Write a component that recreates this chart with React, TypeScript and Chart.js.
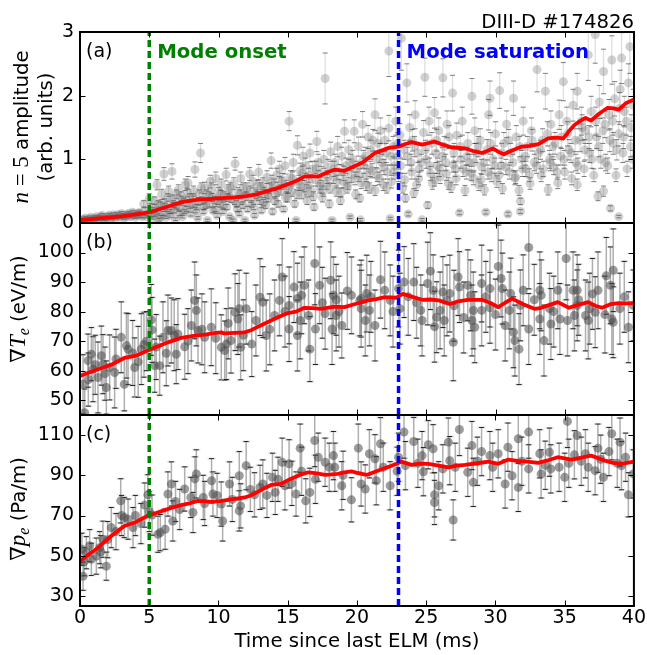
import React, { useEffect, useRef } from 'react';
import { Chart, registerables } from 'chart.js';

Chart.register(...registerables);

// ---------------- data ----------------
const xTicks = [0, 5, 10, 15, 20, 25, 30, 35, 40];
const ampTicks = [0, 1, 2, 3];
const gradTeTicks = [50, 60, 70, 80, 90, 100];
const gradPeTicks = [30, 50, 70, 90, 110];

const modeOnset = 5;
const modeSaturation = 23;

// [time (ms), value, error]
const ampPoints: [number, number, number][] = [
  [0.1, 0.04, 0.02], [0.3, 0.06, 0.02], [0.5, 0.03, 0.02], [0.7, 0.07, 0.02], [0.9, 0.05, 0.02],
  [1.1, 0.08, 0.02], [1.3, 0.06, 0.02], [1.5, 0.1, 0.02], [1.7, 0.07, 0.02], [1.9, 0.09, 0.02],
  [2.1, 0.12, 0.03], [2.3, 0.08, 0.02], [2.5, 0.1, 0.02], [2.7, 0.13, 0.03], [2.9, 0.09, 0.02],
  [3.1, 0.12, 0.03], [3.3, 0.1, 0.02], [3.5, 0.15, 0.03], [3.7, 0.11, 0.02], [3.9, 0.14, 0.03],
  [4.1, 0.12, 0.03], [4.3, 0.17, 0.03], [4.5, 0.1, 0.02], [4.7, 0.2, 0.04], [4.9, 0.14, 0.03],
  [4.6, 0.3, 0.05], [5.0, 0.38, 0.08],
  [0.2, 0.05, 0.02], [0.4, 0.08, 0.02], [0.6, 0.05, 0.02], [0.8, 0.09, 0.02], [1.0, 0.06, 0.02],
  [1.2, 0.1, 0.02], [1.4, 0.07, 0.02], [1.6, 0.12, 0.03], [1.8, 0.06, 0.02], [2.0, 0.1, 0.02],
  [2.2, 0.07, 0.02], [2.4, 0.13, 0.03], [2.6, 0.08, 0.02], [2.8, 0.11, 0.02], [3.0, 0.15, 0.03],
  [3.2, 0.08, 0.02], [3.4, 0.13, 0.03], [3.6, 0.1, 0.02], [3.8, 0.17, 0.03], [4.0, 0.09, 0.02],
  [4.2, 0.15, 0.03], [4.4, 0.12, 0.03], [4.8, 0.1, 0.02],
  [5.1, 0.12, 0.03], [5.2, 0.25, 0.05], [5.3, 0.08, 0.02], [5.4, 0.35, 0.06], [5.56, 0.6, 0.08],
  [5.6, 0.18, 0.04], [5.7, 0.05, 0.02], [5.8, 0.28, 0.05], [5.9, 0.45, 0.08], [6.0, 0.15, 0.03],
  [6.06, 0.77, 0.1], [6.1, 0.32, 0.06], [6.2, 0.09, 0.02], [6.3, 0.22, 0.04], [6.4, 0.5, 0.08],
  [6.5, 0.12, 0.03], [6.64, 0.81, 0.12], [6.7, 0.38, 0.06], [6.8, 0.2, 0.04], [6.9, 0.06, 0.02],
  [7.0, 0.27, 0.05], [7.1, 0.52, 0.08], [7.2, 0.15, 0.03], [7.3, 0.42, 0.07], [7.4, 0.1, 0.02],
  [7.5, 0.33, 0.06], [7.6, 0.6, 0.09], [7.7, 0.22, 0.04], [7.8, 0.63, 0.1], [7.9, 0.4, 0.06],
  [8.0, 0.14, 0.03], [8.1, 0.3, 0.05], [8.2, 0.5, 0.08], [8.3, 0.84, 0.12], [8.4, 0.25, 0.04],
  [8.5, 0.08, 0.02], [8.6, 0.45, 0.07], [8.7, 1.1, 0.15], [8.8, 0.35, 0.06], [8.9, 0.18, 0.03],
  [9.0, 0.55, 0.09], [9.1, 0.28, 0.05], [9.2, 0.04, 0.02], [9.3, 0.42, 0.07], [9.4, 0.65, 0.1],
  [9.5, 0.55, 0.08], [9.6, 0.2, 0.04], [9.7, 0.36, 0.06], [9.8, 0.7, 0.1], [9.9, 0.12, 0.03],
  [10.0, 0.48, 0.08], [10.1, 0.3, 0.05], [10.2, 0.6, 0.09], [10.3, 0.18, 0.03], [10.4, 0.42, 0.07],
  [10.55, 0.76, 0.1], [10.6, 0.25, 0.04], [10.7, 0.52, 0.08], [10.8, 0.1, 0.02], [10.9, 0.38, 0.06],
  [11.05, 0.04, 0.02], [11.1, 0.62, 0.09], [11.2, 0.93, 0.1], [11.3, 0.3, 0.05], [11.4, 0.48, 0.08],
  [11.5, 0.15, 0.03], [11.6, 0.7, 0.1], [11.7, 0.35, 0.06], [11.8, 0.55, 0.08], [11.9, 0.04, 0.02],
  [12.0, 0.42, 0.07], [12.1, 0.22, 0.04], [12.25, 0.77, 0.1], [12.3, 0.5, 0.08], [12.4, 0.3, 0.05],
  [12.5, 0.65, 0.1], [12.6, 0.12, 0.03], [12.7, 0.45, 0.07], [12.8, 0.58, 0.09], [12.9, 0.8, 0.12],
  [13.0, 0.35, 0.06], [13.1, 0.2, 0.04], [13.2, 0.62, 0.09], [13.3, 0.48, 0.08], [13.4, 0.28, 0.05],
  [13.5, 0.72, 0.1], [13.6, 0.4, 0.07], [13.7, 0.55, 0.08], [13.8, 0.98, 0.12], [13.9, 0.18, 0.04],
  [14.0, 0.6, 0.09], [14.1, 0.45, 0.07], [14.2, 0.75, 0.11], [14.3, 0.3, 0.05], [14.4, 0.85, 0.12],
  [14.5, 0.52, 0.08], [14.6, 0.68, 0.1], [14.7, 0.22, 0.04], [14.8, 0.9, 0.13], [14.9, 0.58, 0.09],
  [15.0, 0.4, 0.07], [15.1, 1.6, 0.15], [15.2, 0.72, 0.1], [15.3, 0.5, 0.08], [15.4, 0.95, 0.13],
  [15.5, 0.3, 0.05], [15.6, 0.04, 0.02], [15.7, 1.22, 0.15], [15.8, 0.65, 0.1], [15.9, 0.82, 0.12],
  [16.0, 0.45, 0.07], [16.1, 1.05, 0.14], [16.2, 0.58, 0.09], [16.3, 0.9, 0.12], [16.4, 0.35, 0.06],
  [16.5, 0.75, 0.11], [16.6, 1.1, 0.14], [16.7, 0.5, 0.08], [16.8, 0.85, 0.12], [16.9, 0.25, 0.05],
  [17.0, 0.68, 0.1], [17.1, 1.28, 0.16], [17.2, 0.95, 0.13], [17.3, 0.55, 0.08], [17.4, 0.78, 0.11],
  [17.5, 0.4, 0.07], [17.6, 1.0, 0.14], [17.7, 2.27, 0.4], [17.8, 0.62, 0.09], [17.9, 0.88, 0.12],
  [18.0, 0.3, 0.06], [18.1, 1.12, 0.15], [18.2, 0.04, 0.02], [18.3, 0.72, 0.1], [18.4, 0.95, 0.13],
  [18.5, 0.5, 0.08], [18.6, 1.2, 0.16], [18.7, 0.8, 0.12], [18.8, 0.35, 0.06], [18.9, 1.05, 0.14],
  [19.0, 0.65, 0.1], [19.1, 1.44, 0.18], [19.2, 0.9, 0.12], [19.3, 0.55, 0.08], [19.4, 1.15, 0.15],
  [19.5, 0.09, 0.02], [19.6, 0.75, 0.11], [19.7, 1.0, 0.14], [19.8, 1.44, 0.18], [19.9, 0.45, 0.07],
  [5.25, 0.2, 0.04], [5.45, 0.14, 0.03], [5.65, 0.3, 0.05], [5.85, 0.1, 0.02], [6.15, 0.26, 0.05],
  [6.35, 0.4, 0.06], [6.55, 0.18, 0.03], [6.75, 0.3, 0.05], [6.95, 0.45, 0.07], [7.15, 0.24, 0.04],
  [7.35, 0.36, 0.06], [7.55, 0.18, 0.03], [7.75, 0.48, 0.07], [7.95, 0.28, 0.05], [8.15, 0.4, 0.06],
  [8.35, 0.2, 0.04], [8.55, 0.34, 0.06], [8.75, 0.55, 0.08], [8.95, 0.26, 0.05], [9.15, 0.45, 0.07],
  [9.35, 0.3, 0.05], [9.55, 0.4, 0.06], [9.75, 0.22, 0.04], [9.95, 0.35, 0.06], [10.15, 0.45, 0.07],
  [10.35, 0.28, 0.05], [10.65, 0.4, 0.06], [10.85, 0.55, 0.08], [11.15, 0.35, 0.06], [11.35, 0.22, 0.04],
  [11.55, 0.45, 0.07], [11.75, 0.28, 0.05], [12.05, 0.55, 0.08], [12.35, 0.38, 0.06], [12.55, 0.25, 0.04],
  [12.85, 0.42, 0.07], [13.05, 0.55, 0.08], [13.25, 0.32, 0.05], [13.55, 0.45, 0.07], [13.85, 0.65, 0.1],
  [14.05, 0.35, 0.06], [14.25, 0.5, 0.08], [14.55, 0.62, 0.09], [14.85, 0.4, 0.07], [15.05, 0.55, 0.08],
  [15.35, 0.7, 0.1], [15.65, 0.45, 0.07], [15.85, 0.6, 0.09], [16.05, 0.78, 0.11], [16.35, 0.52, 0.08],
  [16.55, 0.65, 0.1], [16.85, 0.42, 0.07], [17.05, 0.85, 0.12], [17.35, 0.62, 0.09], [17.55, 0.5, 0.08],
  [17.85, 0.72, 0.1], [18.05, 0.55, 0.08], [18.35, 0.85, 0.12], [18.55, 0.65, 0.1], [18.85, 0.48, 0.07],
  [19.05, 0.78, 0.11], [19.35, 0.62, 0.09], [19.55, 0.95, 0.13], [19.85, 0.7, 0.1],
  [20.0, 0.85, 0.12], [20.1, 1.2, 0.15], [20.2, 0.39, 0.06], [20.25, 0.05, 0.02], [20.3, 0.63, 0.09],
  [20.4, 1.55, 0.2], [20.5, 0.9, 0.12], [20.6, 1.05, 0.14], [20.7, 0.75, 0.1], [20.8, 1.35, 0.18],
  [20.9, 0.55, 0.08], [21.0, 1.15, 0.15], [21.1, 0.82, 0.11], [21.3, 0.51, 0.08], [21.3, 1.7, 0.25],
  [21.4, 1.0, 0.13], [21.5, 1.25, 0.16], [21.6, 0.7, 0.1], [21.7, 1.45, 0.2], [21.8, 0.95, 0.13],
  [21.9, 0.6, 0.09], [22.0, 1.3, 0.18], [22.1, 1.1, 0.15], [22.2, 0.8, 0.11], [22.3, 1.49, 0.2],
  [22.3, 2.7, 0.4], [22.4, 0.07, 0.02], [22.5, 0.65, 0.1], [22.6, 1.2, 0.16], [22.7, 0.9, 0.12],
  [22.8, 1.6, 0.22], [22.9, 1.05, 0.14], [23.0, 0.75, 0.1], [23.1, 1.38, 0.18], [23.2, 2.9, 0.5],
  [23.3, 0.55, 0.08], [23.4, 1.15, 0.15], [23.5, 0.39, 0.06], [23.6, 2.2, 0.3], [23.7, 0.14, 0.03],
  [23.8, 1.5, 0.2], [23.9, 0.95, 0.13], [24.0, 1.3, 0.17], [24.1, 0.47, 0.07], [24.2, 1.7, 0.22],
  [24.3, 0.6, 0.09], [24.4, 1.1, 0.15], [24.5, 0.85, 0.12], [24.7, 0.05, 0.02], [24.8, 1.42, 0.19],
  [24.9, 2.29, 0.3], [25.0, 1.0, 0.14], [25.1, 0.28, 0.05], [25.2, 1.6, 0.22], [25.3, 0.78, 0.11],
  [25.4, 1.25, 0.17], [25.6, 0.68, 0.1], [25.6, 1.73, 0.24], [25.7, 1.1, 0.15], [25.8, 0.9, 0.12],
  [25.9, 1.45, 0.2], [26.0, 0.72, 0.1], [26.2, 2.28, 0.3], [26.3, 1.2, 0.16], [26.4, 0.95, 0.13],
  [26.5, 1.55, 0.21], [26.6, 0.62, 0.09], [26.8, 0.56, 0.08], [26.9, 2.04, 0.28], [27.0, 1.1, 0.15],
  [27.1, 0.85, 0.12], [27.2, 1.38, 0.19], [27.4, 0.16, 0.03], [27.5, 1.0, 0.14], [27.6, 1.6, 0.22],
  [27.8, 0.51, 0.08], [27.9, 0.8, 0.11], [28.0, 1.25, 0.17], [28.1, 0.95, 0.13], [28.3, 1.99, 0.28],
  [28.4, 0.7, 0.1], [28.5, 1.45, 0.2], [28.6, 1.1, 0.15], [28.8, 0.6, 0.09], [28.9, 1.3, 0.18],
  [29.0, 0.88, 0.12], [29.2, 0.52, 0.08], [29.3, 0.17, 0.03], [29.4, 1.15, 0.16], [29.5, 1.7, 0.24],
  [29.6, 1.96, 0.27], [29.7, 0.75, 0.1], [29.8, 1.0, 0.14], [30.0, 1.4, 0.19], [30.1, 0.65, 0.09],
  [30.3, 2.08, 0.28], [30.4, 0.9, 0.12], [30.5, 0.54, 0.08], [30.6, 1.25, 0.17], [30.8, 1.55, 0.21],
  [30.9, 0.14, 0.03], [31.0, 0.8, 0.11], [31.1, 1.1, 0.15], [31.3, 1.96, 0.27], [31.4, 0.7, 0.1],
  [31.5, 1.35, 0.18], [31.7, 0.51, 0.08], [31.8, 0.18, 0.03], [31.8, 0.34, 0.05], [31.9, 1.0, 0.14],
  [32.0, 1.6, 0.22], [32.2, 0.85, 0.12], [32.3, 1.2, 0.16], [32.5, 0.62, 0.09], [32.6, 1.45, 0.2],
  [32.8, 0.95, 0.13], [33.0, 2.41, 0.35], [33.1, 1.1, 0.15], [33.3, 0.75, 0.1], [33.4, 1.3, 0.18],
  [33.6, 2.07, 0.28], [33.8, 0.52, 0.08], [33.9, 1.0, 0.14], [34.0, 1.55, 0.21], [34.2, 0.88, 0.12],
  [34.3, 1.25, 0.17], [34.5, 0.63, 0.09], [34.6, 1.7, 0.23], [34.7, 1.05, 0.14], [34.9, 2.22, 0.3],
  [35.0, 0.8, 0.11], [35.2, 1.4, 0.19], [35.3, 1.15, 0.16], [35.5, 0.7, 0.1], [35.6, 1.85, 0.25],
  [35.8, 0.95, 0.13], [35.9, 2.07, 0.28], [35.9, 0.6, 0.09], [36.1, 1.3, 0.18], [36.2, 1.6, 0.22],
  [36.4, 0.85, 0.12], [36.5, 1.45, 0.2], [36.7, 2.64, 0.4], [36.8, 1.1, 0.15], [36.9, 1.75, 0.24],
  [37.1, 0.75, 0.1], [37.2, 2.96, 0.45], [37.3, 1.35, 0.18], [37.4, 0.42, 0.07], [37.5, 1.9, 0.26],
  [37.6, 1.0, 0.14], [37.8, 2.38, 0.35], [37.8, 0.5, 0.08], [37.9, 1.55, 0.21], [38.1, 0.9, 0.12],
  [38.2, 1.7, 0.24], [38.3, 0.23, 0.04], [38.4, 2.56, 0.38], [38.5, 1.25, 0.17], [38.6, 1.95, 0.27],
  [38.7, 0.75, 0.1], [38.9, 0.1, 0.02], [38.9, 1.4, 0.19], [39.0, 2.1, 0.3], [39.1, 2.59, 0.4],
  [39.2, 1.1, 0.15], [39.3, 1.75, 0.24], [39.5, 0.85, 0.12], [39.6, 2.2, 0.3], [39.7, 2.77, 0.42],
  [39.8, 1.5, 0.2], [39.9, 1.0, 0.14],
  [20.15, 0.75, 0.1], [20.45, 1.0, 0.14], [20.65, 0.6, 0.09], [20.95, 0.85, 0.12], [21.15, 1.3, 0.17],
  [21.45, 0.75, 0.1], [21.65, 1.1, 0.15], [21.95, 0.88, 0.12], [22.15, 0.55, 0.08], [22.45, 1.05, 0.14],
  [22.65, 0.8, 0.11], [22.95, 1.25, 0.17], [23.15, 0.9, 0.12], [23.45, 0.68, 0.1], [23.65, 1.05, 0.14],
  [23.95, 0.8, 0.11], [24.15, 1.2, 0.16], [24.45, 0.7, 0.1], [24.65, 0.95, 0.13], [24.95, 1.15, 0.15],
  [25.25, 0.9, 0.12], [25.45, 0.62, 0.09], [25.75, 1.3, 0.17], [25.95, 0.85, 0.12], [26.15, 1.05, 0.14],
  [26.45, 0.78, 0.11], [26.65, 1.35, 0.18], [26.95, 0.92, 0.12], [27.15, 0.7, 0.1], [27.45, 1.2, 0.16],
  [27.65, 0.85, 0.12], [27.95, 1.05, 0.14], [28.25, 0.78, 0.11], [28.45, 0.95, 0.13], [28.75, 1.2, 0.16],
  [28.95, 0.68, 0.1], [29.15, 0.95, 0.13], [29.45, 0.8, 0.11], [29.65, 1.25, 0.17], [29.95, 0.9, 0.12],
  [30.25, 0.75, 0.1], [30.45, 1.1, 0.15], [30.75, 0.88, 0.12], [30.95, 1.3, 0.17], [31.25, 0.95, 0.13],
  [31.45, 0.72, 0.1], [31.75, 1.2, 0.16], [31.95, 0.85, 0.12], [32.15, 1.05, 0.14], [32.45, 0.75, 0.1],
  [32.65, 1.3, 0.17], [32.95, 0.9, 0.12], [33.25, 1.15, 0.15], [33.45, 0.85, 0.12], [33.75, 1.4, 0.19],
  [33.95, 0.95, 0.13], [34.15, 1.2, 0.16], [34.45, 0.8, 0.11], [34.75, 1.35, 0.18], [34.95, 1.0, 0.14],
  [35.15, 1.6, 0.22], [35.45, 1.1, 0.15], [35.75, 1.3, 0.18], [35.95, 0.9, 0.12], [36.25, 1.5, 0.2],
  [36.45, 1.15, 0.16], [36.75, 1.35, 0.18], [36.95, 1.0, 0.14], [37.25, 1.6, 0.22], [37.45, 1.2, 0.16],
  [37.75, 1.45, 0.2], [37.95, 0.95, 0.13], [38.25, 1.3, 0.18], [38.45, 1.6, 0.22], [38.75, 1.15, 0.16],
  [38.95, 1.8, 0.25], [39.25, 1.35, 0.18], [39.45, 1.6, 0.22], [39.75, 1.2, 0.16], [39.95, 1.85, 0.25],
];

const ampSmooth: [number, number][] = [
  [0, 0.05], [0.5, 0.055], [1, 0.065], [1.5, 0.075], [2, 0.085], [2.5, 0.095], [3, 0.105], [3.5, 0.12],
  [4, 0.135], [4.5, 0.15], [5, 0.17], [5.5, 0.2], [6, 0.235], [6.5, 0.27], [7, 0.305], [7.5, 0.335],
  [8, 0.35], [8.7, 0.37], [9.5, 0.38], [10.2, 0.39], [11, 0.4], [11.9, 0.42], [12.85, 0.455], [13.5, 0.5],
  [14.3, 0.55], [15.25, 0.63], [15.8, 0.68], [16.2, 0.73], [16.7, 0.735], [17.2, 0.73], [17.8, 0.79],
  [18.4, 0.84], [19.1, 0.82], [19.8, 0.89], [20.4, 0.95], [21.3, 1.1], [22.3, 1.18], [23, 1.2],
  [23.5, 1.24], [23.95, 1.27], [24.7, 1.23], [25.6, 1.28], [26.2, 1.23], [26.8, 1.19], [27.8, 1.17],
  [28.4, 1.13], [29, 1.1], [29.4, 1.13], [29.8, 1.17], [30.2, 1.12], [30.6, 1.08], [31.2, 1.14],
  [31.9, 1.2], [32.5, 1.21], [33.1, 1.24], [33.8, 1.33], [34.4, 1.34], [34.9, 1.33], [35.3, 1.44],
  [35.7, 1.54], [36.1, 1.6], [36.5, 1.65], [36.9, 1.61], [37.5, 1.72], [38.1, 1.81], [38.5, 1.8],
  [38.9, 1.78], [39.4, 1.88], [40, 1.94],
];

const gradTePoints: [number, number, number][] = [
  [0.34, 45.8, 8], [0.22, 55.4, 10], [0.58, 63.4, 9], [0.94, 60.5, 11], [1.3, 57.7, 12], [1.54, 65.1, 10],
  [1.9, 54.3, 9], [2.14, 61.1, 11], [2.5, 59.4, 12], [1.66, 62.2, 10], [0.82, 65.6, 9], [2.98, 71.3, 12],
  [3.2, 55.4, 9], [3.35, 68.5, 11], [3.47, 67.3, 12], [3.95, 61.1, 10], [4.43, 67.3, 12], [4.62, 68.8, 11],
  [5.15, 77.2, 12], [5.2, 73.8, 11], [5.39, 61.7, 9], [5.75, 61.7, 10], [5.99, 71.3, 12], [6.23, 65.9, 11],
  [6.35, 73.6, 12], [6.6, 73.6, 11], [6.95, 65.6, 10], [7.07, 72.4, 12], [7.56, 68.1, 11], [8.04, 75.3, 12],
  [8.28, 83.8, 13], [8.4, 80.4, 12], [8.52, 73.6, 11], [9.0, 71.3, 12], [9.48, 74.7, 13], [10.2, 67.9, 11],
  [10.45, 66.8, 10], [10.57, 69.0, 12], [10.9, 70.2, 11], [11.2, 79.8, 13], [11.4, 77.5, 12], [11.5, 81.0, 13],
  [11.6, 67.9, 11], [12.0, 81.0, 12], [12.4, 69.0, 11], [13.0, 84.9, 13], [13.2, 83.2, 12], [13.45, 71.9, 12],
  [14.05, 78.7, 12], [14.6, 91.7, 13], [14.4, 83.8, 12], [15.1, 82.1, 13], [15.1, 74.1, 11], [15.45, 88.3, 12],
  [15.7, 71.9, 12], [15.7, 84.4, 12], [16.0, 85.5, 13], [16.2, 88.9, 13], [16.5, 78.7, 12], [16.6, 67.3, 11],
  [16.95, 96.3, 14], [17.0, 74.1, 12], [17.3, 88.9, 13], [17.7, 79.3, 12], [18.1, 90.6, 13], [18.3, 85.5, 13],
  [18.2, 74.1, 12], [18.5, 84.0, 12], [18.5, 78.7, 12], [18.9, 75.3, 11], [19.6, 85.5, 13], [20.3, 84.4, 13],
  [20.2, 83.8, 12], [20.3, 81.0, 13], [20.6, 77.0, 12], [20.7, 86.1, 13], [20.9, 80.4, 12], [21.3, 75.3, 12],
  [21.7, 90.8, 13], [22.0, 87.2, 13], [22.4, 83.8, 12], [23.0, 87.8, 13], [23.4, 90.0, 12], [23.1, 81.0, 12],
  [24.1, 90.0, 13], [24.6, 80.4, 12], [24.7, 77.0, 12], [25.1, 89.5, 14], [25.3, 93.7, 13], [25.5, 87.2, 12],
  [25.6, 74.9, 12], [25.75, 78.1, 12], [26.0, 80.4, 13], [26.2, 86.6, 12], [26.3, 77.0, 12], [26.5, 83.8, 12],
  [26.7, 86.1, 13], [26.95, 69.6, 13], [27.3, 91.7, 13], [27.4, 88.3, 12], [28.0, 88.9, 12], [28.2, 85.5, 12],
  [28.3, 77.0, 12], [28.4, 80.4, 13], [28.5, 74.7, 12], [29.0, 89.5, 13], [29.0, 80.4, 12], [29.6, 87.8, 13],
  [29.6, 81.3, 12], [30.2, 95.3, 14], [30.4, 91.2, 13], [30.5, 87.8, 12], [30.7, 75.3, 12], [31.0, 80.4, 13],
  [31.1, 86.1, 12], [31.3, 73.0, 12], [31.4, 70.2, 12], [31.7, 67.3, 12], [31.8, 82.1, 12], [32.0, 87.2, 12],
  [32.4, 101.7, 14], [32.4, 74.1, 12], [33.2, 87.2, 13], [33.3, 85.5, 12], [33.2, 77.5, 12], [33.5, 70.2, 12],
  [33.9, 81.0, 12], [34.0, 75.8, 12], [34.5, 87.2, 13], [34.65, 77.5, 12], [35.1, 98.0, 14], [35.2, 77.0, 12],
  [35.6, 87.2, 13], [35.7, 78.7, 12], [35.9, 87.2, 12], [35.9, 82.1, 12], [36.5, 78.7, 12], [36.7, 77.0, 13],
  [36.8, 81.0, 12], [37.2, 79.8, 12], [37.4, 87.2, 13], [38.0, 92.1, 13], [38.3, 88.9, 13], [38.4, 77.5, 12],
  [38.5, 94.0, 14], [38.5, 76.4, 12], [38.98, 81.0, 12], [39.6, 74.7, 12], [39.95, 82.1, 12],
  [0.6, 57, 9], [1.1, 62, 10], [1.8, 59, 9], [2.6, 64, 10], [3.8, 66, 11], [4.2, 63, 12], [4.8, 70, 10],
  [5.5, 68, 11], [6.8, 72, 12], [7.8, 70, 11], [8.8, 74, 12], [9.8, 71, 12], [10.7, 76, 12], [11.8, 72, 12],
  [12.7, 77, 12], [13.7, 74, 12], [14.8, 80, 12], [15.9, 77, 13], [17.5, 83, 12], [18.7, 80, 12],
  [19.3, 87, 13], [21.0, 85, 12], [22.6, 80, 12], [23.7, 85, 13], [24.3, 83, 12], [27.0, 82, 12],
  [27.7, 78, 12], [29.3, 85, 12], [30.0, 79, 12], [32.8, 84, 12], [34.2, 80, 12], [36.0, 84, 12],
  [37.0, 86, 12], [37.9, 79, 13], [39.3, 85, 12],
];

const gradTeSmooth: [number, number][] = [
  [0, 58.2], [1, 60], [2.26, 62], [3.2, 64.3], [4, 65], [4.9, 66.8], [5.6, 68.2], [6.35, 69.6], [7.3, 71.1],
  [8.2, 71.8], [9, 72.2], [9.8, 72.8], [10.2, 73], [10.4, 72.6], [11.2, 72.8], [11.9, 73], [12.4, 73.8],
  [12.85, 74.9], [13.8, 77], [14.3, 78.1], [15, 79.5], [15.6, 80], [16.2, 81.3], [16.8, 81.2], [17.4, 80.9],
  [18.4, 81.7], [19.1, 81.5], [19.8, 82.5], [20.4, 83.2], [20.8, 83.8], [21.4, 84.2], [22, 84.9],
  [22.85, 84.7], [23.3, 86], [24, 85], [24.7, 84], [25.3, 84.1], [25.9, 83.8], [26.7, 82.6], [27.3, 83.5],
  [28, 84], [29, 84], [29.6, 83], [30.2, 81.5], [30.7, 83], [31.2, 84.4], [32, 82.5], [32.85, 80.9],
  [33.3, 81.3], [33.8, 82.1], [34.5, 83.2], [35.3, 81.3], [35.9, 82.2], [36.7, 83.2], [37.2, 82],
  [37.7, 81.3], [38.3, 82.5], [38.9, 82.9], [39.5, 82.8], [40, 82.9],
];

const gradPePoints: [number, number, number][] = [
  [0.22, 39.8, 7], [0.14, 53.2, 8], [0.46, 51.5, 8], [0.82, 48.2, 8], [1.18, 49.8, 9], [1.42, 54.0, 8],
  [1.9, 44.8, 7], [1.66, 58.2, 9], [2.26, 64.0, 10], [2.94, 77.3, 11], [3.2, 69.0, 10], [3.47, 68.2, 10],
  [3.83, 64.0, 10], [4.67, 75.2, 11], [4.9, 80.3, 10], [5.2, 70.2, 10], [5.63, 60.7, 9], [5.8, 61.5, 9],
  [6.15, 63.2, 10], [6.35, 80.7, 11], [6.6, 85.7, 11], [6.7, 67.3, 10], [7.56, 83.2, 11], [8.16, 71.5, 10],
  [8.4, 90.7, 12], [8.3, 88.2, 11], [8.9, 79.0, 11], [9.5, 87.3, 11], [9.6, 80.7, 11], [10.2, 75.7, 11],
  [10.3, 67.3, 10], [10.8, 85.7, 11], [11.5, 89.8, 12], [11.5, 72.3, 10], [11.6, 74.8, 11], [12.0, 94.8, 12],
  [12.6, 80.3, 11], [13.0, 84.0, 11], [13.2, 85.7, 12], [13.9, 89.0, 12], [14.1, 81.5, 11], [14.6, 96.5, 12],
  [14.8, 84.8, 12], [15.1, 95.7, 12], [15.6, 80.7, 11], [15.9, 103.5, 12], [16.3, 77.3, 11], [16.6, 81.5, 12],
  [16.95, 107.3, 13], [17.2, 99.0, 12], [17.7, 96.5, 12], [18.3, 99.8, 12], [18.4, 94.0, 12], [18.9, 84.8, 12],
  [19.6, 77.8, 11], [20.1, 103.5, 12], [20.3, 85.7, 11], [20.6, 83.2, 12], [20.9, 100.7, 12], [21.3, 98.2, 12],
  [21.4, 87.3, 12], [21.7, 105.7, 13], [22.4, 84.8, 12], [23.0, 99.0, 12], [23.4, 111.5, 13], [23.5, 94.8, 12],
  [24.1, 106.8, 12], [24.7, 99.8, 12], [24.8, 91.8, 12], [25.15, 105.2, 12], [25.5, 103.2, 12], [25.6, 80.3, 11],
  [25.6, 76.5, 11], [25.9, 84.8, 12], [26.2, 93.2, 12], [26.6, 106.5, 12], [26.7, 97.3, 12], [26.95, 67.8, 10],
  [27.4, 112.8, 13], [28.0, 91.5, 12], [28.3, 104.8, 12], [28.4, 86.5, 12], [29.0, 101.8, 12], [29.6, 99.8, 12],
  [30.2, 100.7, 12], [30.7, 85.7, 12], [30.9, 104.0, 12], [31.2, 89.8, 12], [31.65, 108.2, 12], [31.65, 84.0, 12],
  [32.4, 111.5, 13], [32.4, 93.2, 12], [33.2, 100.7, 12], [33.3, 90.7, 12], [33.9, 101.5, 12], [34.0, 93.2, 12],
  [34.6, 94.0, 12], [35.0, 89.0, 12], [35.2, 116.8, 13], [35.7, 100.2, 12], [35.9, 109.8, 12], [36.5, 100.7, 12],
  [36.7, 94.0, 12], [37.2, 92.3, 12], [37.4, 103.5, 12], [37.8, 89.0, 12], [38.2, 101.8, 12], [38.4, 110.7, 13],
  [39.0, 106.5, 12], [39.1, 94.8, 12], [39.6, 80.3, 11], [39.95, 90.7, 12],
  [0.3, 47, 7], [0.7, 55, 8], [1.5, 52, 8], [2.0, 58, 9], [2.6, 62, 9], [3.0, 70, 10], [4.0, 70, 10],
  [4.4, 66, 10], [5.0, 72, 10], [6.9, 77, 10], [7.2, 73, 10], [8.0, 79, 10], [9.0, 76, 11], [9.9, 80, 11],
  [11.0, 78, 11], [12.3, 83, 11], [13.5, 80, 11], [14.3, 88, 11], [15.3, 86, 11], [16.0, 92, 12],
  [17.0, 88, 12], [18.0, 94, 12], [19.0, 90, 12], [21.9, 94, 12], [22.9, 92, 12], [24.4, 96, 12],
  [27.1, 94, 12], [28.7, 97, 12], [29.8, 94, 12], [31.9, 97, 12], [33.6, 95, 12], [35.3, 96, 12],
  [36.2, 97, 12], [37.6, 98, 12], [38.8, 96, 12], [39.4, 99, 12],
];

const gradPeSmooth: [number, number][] = [
  [0, 47.3], [0.6, 50.5], [1.3, 54], [2.26, 59.8], [3.2, 64.8], [3.95, 66.5], [4.5, 68.5], [4.9, 69.8],
  [5.5, 71.3], [6.1, 72.7], [6.7, 74], [7.3, 75.2], [7.9, 76], [8.5, 77.3], [9, 77], [9.5, 76.8],
  [10.1, 77.2], [10.7, 77.8], [11.3, 78.4], [11.9, 79], [12.5, 80.5], [13.1, 82.8], [13.8, 85.2],
  [14.5, 85.7], [15, 87.5], [15.5, 89], [16, 90.5], [16.5, 91.5], [17.1, 91], [17.7, 90.2], [18.2, 90.5],
  [18.6, 90.7], [19.1, 91.5], [19.6, 92], [20, 91.2], [20.7, 90.2], [21.5, 92.3], [22, 93.5], [22.5, 94.8],
  [23.2, 96.8], [23.95, 95.2], [24.5, 95.8], [25.15, 95.7], [25.9, 94.8], [26.6, 94], [27.2, 94.8],
  [27.8, 95.2], [28.7, 96], [29.5, 96.8], [30.2, 95.7], [30.9, 97.8], [31.6, 97.2], [32.3, 96.8],
  [33.1, 96.2], [33.8, 97.5], [34.5, 99], [35, 98.4], [35.5, 97.8], [36.2, 98.8], [36.9, 99.8],
  [37.4, 98.6], [37.9, 97.3], [38.5, 96.2], [39.1, 95.7], [39.5, 96.2], [40, 96.8],
];

// ---------------- styling / layout ----------------
const W = 647;
const H = 655;
const SANS_LETTER = "19px 'DejaVu Sans', sans-serif";
const SANS = "19.7px 'DejaVu Sans', sans-serif";
const SANS_BOLD = "bold 19.7px 'DejaVu Sans', sans-serif";
const MATH_IT = "italic 23px 'Liberation Serif', serif";
const MATH_RM = "23px 'Liberation Serif', serif";
const MATH_SUB = "italic 16px 'Liberation Serif', serif";
const NABLA = "21px 'DejaVu Serif', serif";

type Run = { t: string; f: string; dy?: number };

interface Panel {
  letter: string;
  points: [number, number, number][];
  smooth: [number, number][];
  yMin: number;
  yMax: number;
  yTicks: number[];
  areaTop: number;
  areaBottom: number;
  showX: boolean;
  pointColor: string;
  barColor: string;
  barWidth: number;
  capColor: string;
  capHalo: string | null;
  radius: number;
  labelLines: { runs: Run[]; baseX: number }[];
  labelCenterY: number;
  showAnnot: boolean;
  showTitle: boolean;
}

const panels: Panel[] = [
  {
    letter: '(a)', points: ampPoints, smooth: ampSmooth, yMin: 0, yMax: 3, yTicks: ampTicks,
    areaTop: 32, areaBottom: 223, showX: false,
    pointColor: 'rgba(105,105,105,0.31)', barColor: 'rgba(140,140,140,0.3)', barWidth: 1.2,
    capColor: 'rgba(0,0,0,0.5)', capHalo: null, radius: 4.5,
    labelLines: [
      { runs: [{ t: 'n', f: MATH_IT }, { t: ' = 5', f: MATH_RM }, { t: ' amplitude', f: SANS }], baseX: 28 },
      { runs: [{ t: '(arb. units)', f: SANS }], baseX: 51.5 },
    ],
    labelCenterY: 127, showAnnot: true, showTitle: true,
  },
  {
    letter: '(b)', points: gradTePoints, smooth: gradTeSmooth, yMin: 45, yMax: 110, yTicks: gradTeTicks,
    areaTop: 223, areaBottom: 415, showX: false,
    pointColor: 'rgba(75,75,75,0.55)', barColor: 'rgba(110,110,110,0.55)', barWidth: 1.5,
    capColor: 'rgba(0,0,0,0.85)', capHalo: 'rgba(190,190,190,0.5)', radius: 4.5,
    labelLines: [
      { runs: [{ t: '∇', f: NABLA }, { t: 'T', f: MATH_IT }, { t: 'e', f: MATH_SUB, dy: 4 }, { t: ' (eV/m)', f: SANS }], baseX: 25 },
    ],
    labelCenterY: 309, showAnnot: false, showTitle: false,
  },
  {
    letter: '(c)', points: gradPePoints, smooth: gradPeSmooth, yMin: 25, yMax: 120, yTicks: gradPeTicks,
    areaTop: 415, areaBottom: 606, showX: true,
    pointColor: 'rgba(75,75,75,0.55)', barColor: 'rgba(110,110,110,0.55)', barWidth: 1.5,
    capColor: 'rgba(0,0,0,0.85)', capHalo: 'rgba(190,190,190,0.5)', radius: 4.5,
    labelLines: [
      { runs: [{ t: '∇', f: NABLA }, { t: 'p', f: MATH_IT }, { t: 'e', f: MATH_SUB, dy: 4 }, { t: ' (Pa/m)', f: SANS }], baseX: 25 },
    ],
    labelCenterY: 509, showAnnot: false, showTitle: false,
  },
];

function drawRotatedRuns(ctx: CanvasRenderingContext2D, runs: Run[], baseX: number, centerY: number) {
  ctx.save();
  ctx.translate(baseX, centerY);
  ctx.rotate(-Math.PI / 2);
  ctx.fillStyle = '#000';
  ctx.textBaseline = 'alphabetic';
  ctx.textAlign = 'left';
  let total = 0;
  for (const r of runs) { ctx.font = r.f; total += ctx.measureText(r.t).width; }
  let x = -total / 2;
  for (const r of runs) {
    ctx.font = r.f;
    ctx.fillText(r.t, x, r.dy || 0);
    x += ctx.measureText(r.t).width;
  }
  ctx.restore();
}

function decorPlugin(p: Panel) {
  return {
    id: 'decor',
    beforeDatasetsDraw(chart: any) {
      const { ctx, chartArea: a } = chart;
      const xs = chart.scales.x;
      const ys = chart.scales.y;
      ctx.save();
      ctx.beginPath();
      ctx.rect(a.left, a.top, a.right - a.left, a.bottom - a.top);
      ctx.clip();
      ctx.lineWidth = p.barWidth;
      ctx.strokeStyle = p.barColor;
      for (const [t, v, e] of p.points) {
        const px = xs.getPixelForValue(t);
        ctx.beginPath();
        ctx.moveTo(px, ys.getPixelForValue(v - e));
        ctx.lineTo(px, ys.getPixelForValue(v + e));
        ctx.stroke();
      }
      for (const [t, v, e] of p.points) {
        const px = xs.getPixelForValue(t);
        for (const yy of [ys.getPixelForValue(v - e), ys.getPixelForValue(v + e)]) {
          if (p.capHalo) {
            ctx.strokeStyle = p.capHalo;
            ctx.lineWidth = 2;
            ctx.beginPath();
            ctx.moveTo(px - 4, yy);
            ctx.lineTo(px + 4, yy);
            ctx.stroke();
          }
          ctx.strokeStyle = p.capColor;
          ctx.lineWidth = 1;
          ctx.beginPath();
          ctx.moveTo(px - 2.5, yy);
          ctx.lineTo(px + 2.5, yy);
          ctx.stroke();
        }
      }
      ctx.restore();
    },
    afterDraw(chart: any) {
      const { ctx, chartArea: a } = chart;
      const xs = chart.scales.x;
      const ys = chart.scales.y;
      ctx.save();
      ctx.strokeStyle = '#000';
      ctx.lineWidth = 1;
      const TL = 5.5;
      for (const t of xTicks) {
        const px = Math.round(xs.getPixelForValue(t)) + 0.5;
        ctx.beginPath();
        ctx.moveTo(px, a.top); ctx.lineTo(px, a.top + TL);
        ctx.moveTo(px, a.bottom); ctx.lineTo(px, a.bottom - TL);
        ctx.stroke();
      }
      for (const v of p.yTicks) {
        const py = Math.round(ys.getPixelForValue(v)) + 0.5;
        ctx.beginPath();
        ctx.moveTo(a.left, py); ctx.lineTo(a.left + TL, py);
        ctx.moveTo(a.right, py); ctx.lineTo(a.right - TL, py);
        ctx.stroke();
      }
      ctx.lineWidth = 2;
      ctx.strokeRect(a.left, a.top, a.right - a.left, a.bottom - a.top);
      ctx.fillStyle = '#000';
      ctx.font = SANS_LETTER;
      ctx.textAlign = 'left';
      ctx.textBaseline = 'alphabetic';
      ctx.fillText(p.letter, a.left + 6, a.top + 24.5);
      if (p.showAnnot) {
        ctx.font = SANS_BOLD;
        ctx.fillStyle = '#008000';
        ctx.fillText('Mode onset', xs.getPixelForValue(modeOnset) + 8, a.top + 25.5);
        ctx.fillStyle = '#0000ff';
        ctx.fillText('Mode saturation', xs.getPixelForValue(modeSaturation) + 8, a.top + 25.5);
      }
      if (p.showTitle) {
        ctx.font = SANS;
        ctx.fillStyle = '#000';
        ctx.textAlign = 'right';
        ctx.fillText('DIII-D #174826', a.right, a.top - 4);
      }
      ctx.restore();
      for (const line of p.labelLines) drawRotatedRuns(ctx, line.runs, line.baseX, p.labelCenterY);
    },
  };
}

function makePanel(canvas: HTMLCanvasElement, p: Panel) {
  const tickFont = { family: "'DejaVu Sans', sans-serif", size: 19 };
  const titleFont = { family: "'DejaVu Sans', sans-serif", size: 19.7 };
  const xAxisHeight = H - p.areaBottom;
  return new Chart(canvas, {
    type: 'scatter',
    data: {
      datasets: [
        {
          type: 'line',
          data: [{ x: modeOnset, y: p.yMin }, { x: modeOnset, y: p.yMax }],
          borderColor: '#008000', borderWidth: 3.5, borderDash: [7, 4], borderCapStyle: 'butt',
          pointRadius: 0, fill: false, clip: 0,
        } as any,
        {
          type: 'line',
          data: [{ x: modeSaturation, y: p.yMin }, { x: modeSaturation, y: p.yMax }],
          borderColor: '#0000ff', borderWidth: 3.5, borderDash: [7, 4], borderCapStyle: 'butt',
          pointRadius: 0, fill: false, clip: 0,
        } as any,
        {
          type: 'line',
          data: p.smooth.map(([x, y]) => ({ x, y })),
          borderColor: '#ff0000', borderWidth: 3.8, pointRadius: 0, fill: false, tension: 0,
          borderJoinStyle: 'round', borderCapStyle: 'round', clip: 0,
        } as any,
        {
          type: 'scatter',
          data: p.points.map(([x, y]) => ({ x, y })),
          pointRadius: p.radius, pointBackgroundColor: p.pointColor, backgroundColor: p.pointColor,
          pointBorderWidth: 0, borderWidth: 0, pointBorderColor: 'rgba(0,0,0,0)', clip: 0,
        } as any,
      ],
    },
    options: {
      animation: false,
      responsive: false,
      events: [],
      layout: {
        padding: { left: 0, right: 13, top: p.areaTop, bottom: p.showX ? 0 : H - p.areaBottom },
      },
      plugins: { legend: { display: false }, tooltip: { enabled: false } },
      scales: {
        x: {
          type: 'linear', min: 0, max: 40, display: p.showX,
          afterBuildTicks: (s: any) => { s.ticks = xTicks.map((v) => ({ value: v })); },
          afterFit: (s: any) => { if (p.showX) s.height = xAxisHeight; },
          grid: { display: false, drawTicks: false },
          border: { display: false },
          ticks: { font: tickFont, color: '#000', padding: 1, maxRotation: 0, autoSkip: false },
          title: {
            display: true, text: 'Time since last ELM (ms)', color: '#000',
            font: titleFont, padding: { top: 0, bottom: 1 },
          },
        },
        y: {
          type: 'linear', min: p.yMin, max: p.yMax,
          afterBuildTicks: (s: any) => { s.ticks = p.yTicks.map((v) => ({ value: v })); },
          afterFit: (s: any) => { s.width = 80; },
          grid: { display: false, drawTicks: false },
          border: { display: false },
          ticks: { font: tickFont, color: '#000', padding: 6, autoSkip: false },
        },
      },
    } as any,
    plugins: [decorPlugin(p)],
  });
}

export default function App() {
  const refA = useRef<HTMLCanvasElement>(null);
  const refB = useRef<HTMLCanvasElement>(null);
  const refC = useRef<HTMLCanvasElement>(null);

  useEffect(() => {
    const canvases = [refA.current!, refB.current!, refC.current!];
    const charts = canvases.map((c, i) => makePanel(c, panels[i]));
    return () => charts.forEach((c) => c.destroy());
  }, []);

  const cs: React.CSSProperties = { position: 'absolute', left: 0, top: 0 };
  return (
    <div style={{ position: 'fixed', left: 0, top: 0, width: W, height: H, background: '#fff' }}>
      <canvas ref={refA} width={W} height={H} style={cs} />
      <canvas ref={refB} width={W} height={H} style={cs} />
      <canvas ref={refC} width={W} height={H} style={cs} />
    </div>
  );
}
